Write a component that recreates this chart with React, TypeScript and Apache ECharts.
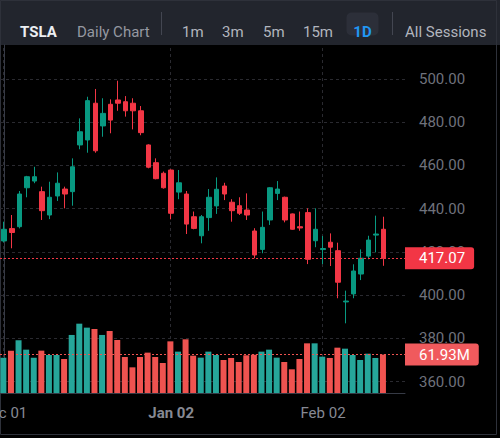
import React, { useEffect, useRef } from 'react';
import * as echarts from 'echarts';

// ---- data ----
const opens = [425.1, 430.8, 431.7, 449.7, 452.8, 447.9, 437.1, 445.9, 449.1, 447.9, 469.5, 471.8, 488.8, 478.3, 488.3, 490.3, 489.5, 488.8, 485.3, 469.5, 461.3, 456.4, 457.9, 447.7, 446.8, 436.3, 427.5, 435.9, 441.3, 450.5, 443.0, 441.4, 439.4, 429.7, 421.2, 434.8, 447.1, 445.3, 437.6, 431.7, 438.2, 425.2, 421.1, 424.5, 420.6, 396.9, 400.6, 409.8, 418.1, 427.8, 430.5];
const closes = [430.5, 429.0, 446.8, 454.8, 454.8, 439.1, 445.3, 451.8, 446.8, 459.4, 475.6, 490.0, 466.8, 484.1, 481.0, 488.8, 485.3, 485.3, 475.2, 459.2, 453.9, 449.7, 437.9, 452.0, 432.9, 430.9, 436.3, 445.3, 449.0, 446.8, 439.1, 437.9, 437.1, 418.6, 431.4, 449.7, 449.1, 434.8, 430.5, 431.1, 416.6, 430.5, 421.6, 422.2, 406.0, 397.3, 411.2, 417.1, 425.5, 428.3, 417.07];
const lows = [424.5, 421.7, 430.9, 445.3, 451.8, 434.8, 435.2, 443.6, 440.2, 441.4, 467.5, 465.9, 465.9, 473.3, 474.9, 485.3, 482.6, 476.7, 474.0, 458.7, 453.6, 449.3, 435.1, 444.4, 428.3, 430.5, 424.0, 429.8, 437.6, 444.0, 434.0, 437.1, 434.8, 417.1, 419.4, 432.5, 444.0, 433.7, 430.3, 429.8, 414.4, 422.2, 414.4, 413.5, 398.6, 387.0, 398.6, 407.0, 416.6, 419.8, 413.6];
const highs = [434.0, 437.1, 448.2, 455.2, 459.4, 450.2, 452.5, 456.8, 450.2, 463.3, 481.8, 491.8, 495.4, 491.1, 490.6, 499.2, 492.1, 491.1, 487.5, 469.8, 463.3, 457.2, 458.2, 457.9, 448.2, 438.7, 437.1, 449.1, 454.5, 452.0, 444.4, 445.3, 447.1, 431.0, 438.7, 450.0, 452.8, 445.6, 437.8, 438.7, 440.2, 440.2, 427.4, 428.6, 424.3, 402.1, 414.3, 421.2, 427.5, 436.8, 436.3];
// volume in millions
const volumes = [57.0, 68.3, 85.0, 69.9, 57.0, 68.3, 61.3, 61.3, 54.8, 93.6, 111.8, 105.4, 103.2, 93.6, 100.0, 85.5, 58.1, 41.4, 58.1, 65.1, 58.1, 48.4, 83.3, 66.7, 86.6, 60.2, 57.0, 66.7, 61.3, 53.2, 56.5, 50.0, 60.8, 61.8, 66.7, 69.9, 57.0, 50.0, 38.2, 54.8, 80.1, 80.1, 58.6, 56.5, 73.1, 71.5, 61.3, 53.2, 63.4, 56.5, 61.93];
const xTickIndex = [0, 22, 42];
const xTickLabels = ['Dec 01', 'Jan 02', 'Feb 02'];
const xTickBold = [false, true, false];
const headerIntervals = ['1m', '3m', '5m', '15m'];

const UP = '#089981';
const DOWN = '#f23645';
const VOL_UP = '#26a69a';
const VOL_DOWN = '#ef5350';
const FONT = 'Roboto, "Liberation Sans", sans-serif';
const GRID_COLOR = '#2a2a30';
const BORDER_COLOR = '#363a45';

export default function App() {
  const ref = useRef<HTMLDivElement>(null);

  useEffect(() => {
    if (!ref.current) return;
    const chart = echarts.init(ref.current, undefined, { renderer: 'svg' });
    const n = opens.length;
    const lastPrice = closes[n - 1];
    const lastVol = volumes[n - 1];

    const candleData = opens.map((o, i) => [i, o, closes[i], lows[i], highs[i]]);
    const volData = volumes.map((v, i) => [i, v]);

    const headerX = [182, 222, 263, 303];

    chart.setOption({
      animation: false,
      backgroundColor: '#000000',
      grid: { left: 0, right: 95, top: 45, bottom: 45, containLabel: false, outerBoundsMode: 'none' },
      xAxis: {
        type: 'value',
        min: -0.55,
        max: 52.8,
        axisLine: { show: true, lineStyle: { color: BORDER_COLOR, width: 1 } },
        axisTick: { show: false },
        splitLine: { show: false },
        axisLabel: {
          customValues: xTickIndex,
          margin: 12,
          fontSize: 15,
          fontFamily: FONT,
          color: '#868993',
          formatter: (v: number) => {
            const k = xTickIndex.indexOf(Math.round(v));
            if (k < 0) return '';
            return xTickBold[k] ? '{b|' + xTickLabels[k] + '}' : xTickLabels[k];
          },
          rich: { b: { fontWeight: 'bold', fontSize: 15, fontFamily: FONT, color: '#868993' } },
        },
      },
      yAxis: [
        {
          type: 'value',
          position: 'right',
          min: 354.77,
          max: 515.73,
          splitNumber: 8,
          axisLine: { show: true, lineStyle: { color: BORDER_COLOR, width: 1 } },
          axisTick: { show: false },
          axisLabel: {
            margin: 14,
            fontSize: 15,
            fontFamily: FONT,
            color: '#6f727c',
            showMinLabel: false,
            showMaxLabel: false,
            formatter: (v: number) => v.toFixed(2),
          },
          splitLine: {
            show: true,
            showMinLine: false,
            showMaxLine: false,
            lineStyle: { color: GRID_COLOR, type: [3, 3], width: 1 },
          },
        },
        {
          type: 'value',
          min: 0,
          max: 561.2,
          show: false,
          splitLine: { show: false },
        },
      ],
      series: [
        {
          type: 'bar',
          yAxisIndex: 1,
          data: volData,
          barWidth: 6,
          z: 1,
          itemStyle: {
            color: (p: any) => (closes[p.dataIndex] >= opens[p.dataIndex] ? VOL_UP : VOL_DOWN),
          },
          markLine: {
            silent: true,
            symbol: ['none', 'none'],
            z: 0,
            lineStyle: { color: GRID_COLOR, type: [3, 3], width: 1 },
            label: { show: false },
            data: xTickIndex.map((v) => ({ xAxis: v })),
          },
        },
        {
          type: 'bar',
          yAxisIndex: 1,
          data: [],
          markLine: {
            silent: true,
            symbol: ['none', 'none'],
            lineStyle: { color: VOL_DOWN, type: [2, 2], width: 1 },
            label: {
              show: true,
              position: 'end',
              distance: 0,
              formatter: lastVol.toFixed(2) + 'M',
              backgroundColor: '#f05a5d',
              color: '#ffffff',
              fontSize: 15,
              fontFamily: FONT,
              padding: [3, 9, 3, 14],
              lineHeight: 16,
              borderRadius: [0, 3, 3, 0],
            },
            data: [{ yAxis: lastVol }],
          },
        },
        {
          type: 'candlestick',
          data: candleData,
          barWidth: 5,
          z: 3,
          itemStyle: {
            color: UP,
            color0: DOWN,
            borderColor: UP,
            borderColor0: DOWN,
            borderWidth: 1,
          },
          markLine: {
            silent: true,
            symbol: ['none', 'none'],
            lineStyle: { color: DOWN, type: [2, 2], width: 1 },
            label: {
              show: true,
              position: 'end',
              distance: 0,
              formatter: lastPrice.toFixed(2),
              backgroundColor: DOWN,
              color: '#ffffff',
              fontSize: 15,
              fontFamily: FONT,
              padding: [3, 9, 3, 14],
              lineHeight: 16,
              borderRadius: [0, 3, 3, 0],
            },
            data: [{ yAxis: lastPrice }],
          },
        },
      ],
      graphic: [
        {
          type: 'group',
          z: 100,
          children: [
            { type: 'rect', shape: { x: 0, y: 0, width: 500, height: 45 }, style: { fill: '#22252d' } },
            { type: 'text', x: 20, y: 32, style: { text: 'TSLA', fill: '#eceef2', font: 'bold 15px ' + FONT, textVerticalAlign: 'middle' } },
            { type: 'text', x: 77, y: 32, style: { text: 'Daily Chart', fill: '#9598a1', font: '15px ' + FONT, textVerticalAlign: 'middle' } },
            { type: 'line', shape: { x1: 161.5, y1: 12, x2: 161.5, y2: 35 }, style: { stroke: '#434651', lineWidth: 1 } },
            ...headerIntervals.map((t, i) => ({
              type: 'text', x: headerX[i], y: 32,
              style: { text: t, fill: '#b2b5be', font: '15px ' + FONT, textVerticalAlign: 'middle' },
            })),
            { type: 'rect', shape: { x: 346.5, y: 12.5, width: 32, height: 23, r: 5 }, style: { fill: '#2c2f39' } },
            { type: 'text', x: 362.5, y: 32, style: { text: '1D', fill: '#2196f3', font: 'bold 15px ' + FONT, textAlign: 'center', textVerticalAlign: 'middle' } },
            { type: 'line', shape: { x1: 392.5, y1: 12, x2: 392.5, y2: 35 }, style: { stroke: '#434651', lineWidth: 1 } },
            { type: 'text', x: 405, y: 32, style: { text: 'All Sessions', fill: '#b2b5be', font: '15px ' + FONT, textVerticalAlign: 'middle' } },
            { type: 'rect', shape: { x: 0.5, y: 0.5, width: 496, height: 434 }, style: { fill: 'none', stroke: '#2e313a', lineWidth: 1 } },
          ],
        },
      ],
    });

    return () => chart.dispose();
  }, []);

  return (
    <div
      ref={ref}
      style={{ position: 'absolute', left: 0, top: 0, width: 500, height: 438, background: '#000' }}
    />
  );
}
